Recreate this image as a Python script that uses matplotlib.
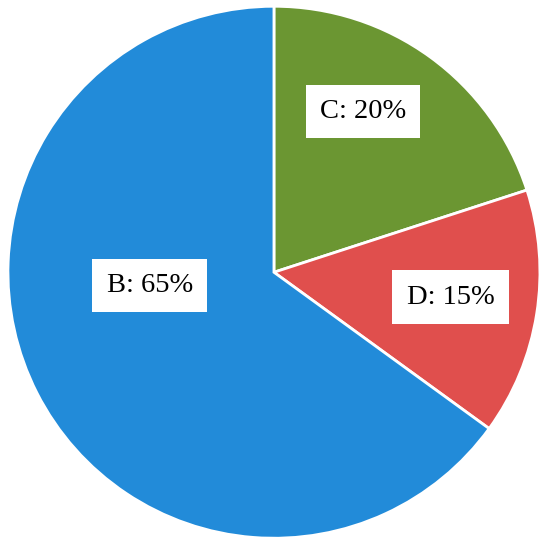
import numpy as np
import matplotlib.pyplot as plt

labels = ['C', 'D', 'B']
shares = [20, 15, 65]
colors = ['#6b9632', '#e04f4d', '#228bd9']

# where each label box sits (radius as fraction, angle in degrees)
label_pos = [(0.69, 61), (0.67, -8), (0.47, 186)]

fig = plt.figure(figsize=(5.49, 5.50), dpi=100)
ax = fig.add_axes([0.499 - 0.4845, 0.505 - 0.4836, 0.969, 0.9672])

wedges, _ = ax.pie(shares, colors=colors, startangle=90, counterclock=False,
                   wedgeprops=dict(edgecolor='white', linewidth=2))

for lab, val, (r, a) in zip(labels, shares, label_pos):
    x = r * np.cos(np.radians(a))
    y = r * np.sin(np.radians(a))
    ax.text(x, y, f'{lab}: {val}%', ha='center', va='center',
            fontsize=20.5, family='Liberation Serif',
            bbox=dict(boxstyle='square,pad=0.5', facecolor='white', edgecolor='none'))

ax.set_xlim(-1, 1)
ax.set_ylim(-1, 1)
ax.set_aspect('equal')
fig.savefig('out.png', dpi=100)
